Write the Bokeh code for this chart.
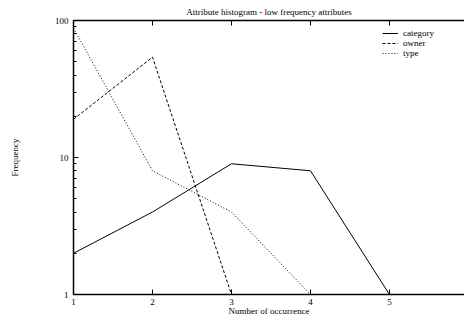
from bokeh.plotting import figure
from bokeh.models import (FixedTicker, LinearAxis, Legend, LegendItem, Range1d,
                          PrintfTickFormatter, CustomJSTickFormatter)
from bokeh.embed import file_html
from bokeh.resources import INLINE

# ---- data ----
occurrence = [1, 2, 3, 4, 5, 6]
category = [2, 4, 9, 8, 1, 1]
owner = [19, 54, 1, 1, 1, 1]
type_ = [88, 8, 4, 1, 1, 1]
x_ticks = [1, 2, 3, 4, 5]
y_ticks = [1, 10, 100]
y_minor = [2, 3, 4, 5, 6, 7, 8, 9, 20, 30, 40, 50, 60, 70, 80, 90]

FONT = "Liberation Serif"

p = figure(width=464, height=318, output_backend="svg", toolbar_location=None,
           y_axis_type="log", x_range=Range1d(1, 5.95), y_range=Range1d(1, 100),
           title="Attribute histogram - low frequency attributes",
           min_border_left=73, min_border_right=0, min_border_top=20,
           min_border_bottom=23)

p.background_fill_color = "white"
p.border_fill_color = "white"
p.outline_line_color = None
p.grid.visible = False

p.title.text_font = FONT
p.title.text_font_size = "9px"
p.title.text_font_style = "normal"
p.title.text_color = "black"
p.title.align = "center"
p.title.standoff = 7

r1 = p.line(occurrence, category, line_color="black", line_width=1)
r2 = p.line(occurrence, owner, line_color="black", line_width=1, line_dash="3 2")
r3 = p.line(occurrence, type_, line_color="black", line_width=1, line_dash="1 2")

xa = p.xaxis[0]
xa.ticker = FixedTicker(ticks=x_ticks)
xa.axis_label = "Number of occurrence"
ya = p.yaxis[0]
ya.ticker = FixedTicker(ticks=y_ticks, minor_ticks=y_minor)
ya.formatter = PrintfTickFormatter(format="%d")
ya.axis_label = "Frequency"

top = LinearAxis(ticker=FixedTicker(ticks=x_ticks),
                 formatter=CustomJSTickFormatter(code="return ''"))
top.major_label_standoff = 0
p.add_layout(top, "above")

for ax in [xa, ya, top]:
    ax.axis_line_color = "black"
    ax.axis_line_width = 1.5
    ax.major_tick_in = 5
    ax.major_tick_out = 0
    ax.minor_tick_in = 3
    ax.minor_tick_out = 0
    ax.major_tick_line_color = "black"
    ax.minor_tick_line_color = "black"
    ax.major_label_text_font = FONT
    ax.axis_label_text_font = FONT
    ax.axis_label_text_font_style = "normal"
    ax.axis_label_text_font_size = "9px"
    ax.major_label_text_color = "black"
    ax.axis_label_text_color = "black"
    ax.major_label_text_font_size = "9px"
xa.minor_tick_line_color = None
top.minor_tick_line_color = None
xa.major_label_standoff = 4
xa.axis_label_standoff = -2
ya.major_label_standoff = 5
ya.axis_label_standoff = 32

legend = Legend(items=[LegendItem(label="category", renderers=[r1]),
                       LegendItem(label="owner", renderers=[r2]),
                       LegendItem(label="type", renderers=[r3])],
                location="top_right")
legend.label_text_font = FONT
legend.label_text_font_size = "9px"
legend.label_text_color = "black"
legend.label_height = 10
legend.label_width = 53
legend.glyph_height = 10
legend.glyph_width = 16
legend.label_standoff = 5
legend.spacing = 0
legend.padding = 6
legend.margin = 8
legend.border_line_color = None
legend.background_fill_alpha = 0
p.add_layout(legend)

open("out.html", "w").write(file_html(p, INLINE))
